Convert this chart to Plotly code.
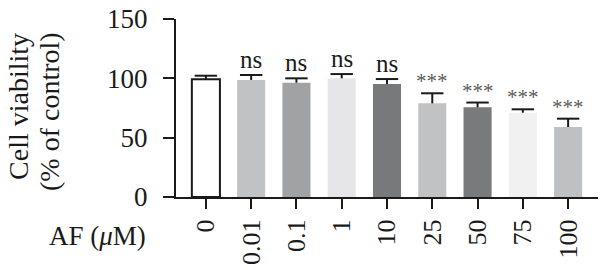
import plotly.graph_objects as go

categories = ["0", "0.01", "0.1", "1", "10", "25", "50", "75", "100"]
values = [99.2, 98.6, 96.3, 100.0, 95.2, 78.9, 75.6, 71.0, 59.0]
errors = [3.0, 4.2, 3.7, 3.6, 4.2, 8.5, 4.0, 2.9, 7.0]
labels = ["", "ns", "ns", "ns", "ns", "***", "***", "***", "***"]
colors = ["#ffffff", "#c1c2c4", "#a1a2a4", "#e6e6e8", "#78797b",
          "#c1c2c4", "#797a7c", "#f1f1f2", "#bfc0c2"]
line_colors = ["#1a1a1a"] + ["rgba(0,0,0,0)"] * 8
yticks = [0, 50, 100, 150]

FONT = "Liberation Serif"
xs = list(range(len(categories)))
tops = [v + e for v, e in zip(values, errors)]

fig = go.Figure()
fig.add_trace(go.Bar(
    x=xs, y=values, width=0.62,
    marker=dict(color=colors, line=dict(color=line_colors, width=2)),
    showlegend=False, hoverinfo="skip",
))
# upper-only error bars: vertical stem without caps + cap marker at top
fig.add_trace(go.Scatter(
    x=xs, y=tops, mode="markers",
    marker=dict(symbol="line-ew", size=16, line=dict(color="#1a1a1a", width=2)),
    error_y=dict(type="data", symmetric=False, array=[0] * len(errors),
                 arrayminus=errors, color="#1a1a1a", thickness=2, width=0),
    showlegend=False, hoverinfo="skip",
))

for i, (tp, t) in enumerate(zip(tops, labels)):
    if not t:
        continue
    if t == "ns":
        fig.add_annotation(x=i, y=tp, text=t, showarrow=False,
                           yanchor="bottom", yshift=0,
                           font=dict(family=FONT, size=25, color="#1a1a1a"))
    else:
        fig.add_annotation(x=i, y=tp, text=t, showarrow=False,
                           yanchor="bottom", yshift=-2,
                           font=dict(family=FONT, size=21, color="#5a5a5a"))

fig.add_annotation(xref="paper", yref="paper", x=-0.372, y=0.506,
                   text="Cell viability", textangle=-90, showarrow=False,
                   xanchor="center", yanchor="middle",
                   font=dict(family=FONT, size=28, color="#1a1a1a"))
fig.add_annotation(xref="paper", yref="paper", x=-0.301, y=0.483,
                   text="(% of control)", textangle=-90, showarrow=False,
                   xanchor="center", yanchor="middle",
                   font=dict(family=FONT, size=28, color="#1a1a1a"))
fig.add_annotation(xref="paper", yref="paper", x=-0.187, y=-0.219,
                   text="AF (<i>μ</i>M)", showarrow=False,
                   xanchor="center", yanchor="middle",
                   font=dict(family=FONT, size=27, color="#1a1a1a"))

fig.update_layout(
    width=600, height=270,
    margin=dict(l=176, r=2, t=19, b=73, autoexpand=False),
    paper_bgcolor="white", plot_bgcolor="white",
    font=dict(family=FONT, size=27, color="#1a1a1a"),
    xaxis=dict(range=[-0.66, 8.66], tickmode="array",
               tickvals=xs, ticktext=categories, automargin=False,
               tickangle=-90, ticks="outside", ticklen=10, tickwidth=2,
               tickcolor="#1a1a1a", showline=True, linewidth=2,
               linecolor="#1a1a1a", showgrid=False, zeroline=False,
               ticklabelstandoff=0, ticklabeloverflow="allow",
               tickfont=dict(family=FONT, size=26)),
    yaxis=dict(range=[0, 150], tickmode="array", tickvals=yticks,
               automargin=False,
               ticks="outside", ticklen=11, tickwidth=2,
               tickcolor="#1a1a1a", showline=True, linewidth=2,
               linecolor="#1a1a1a", showgrid=False, zeroline=False,
               ticklabelstandoff=10, ticklabeloverflow="allow",
               tickfont=dict(family=FONT, size=27)),
)

fig.write_html("out.html", config={"displayModeBar": False},
               post_script="document.body.style.margin='0px';")
